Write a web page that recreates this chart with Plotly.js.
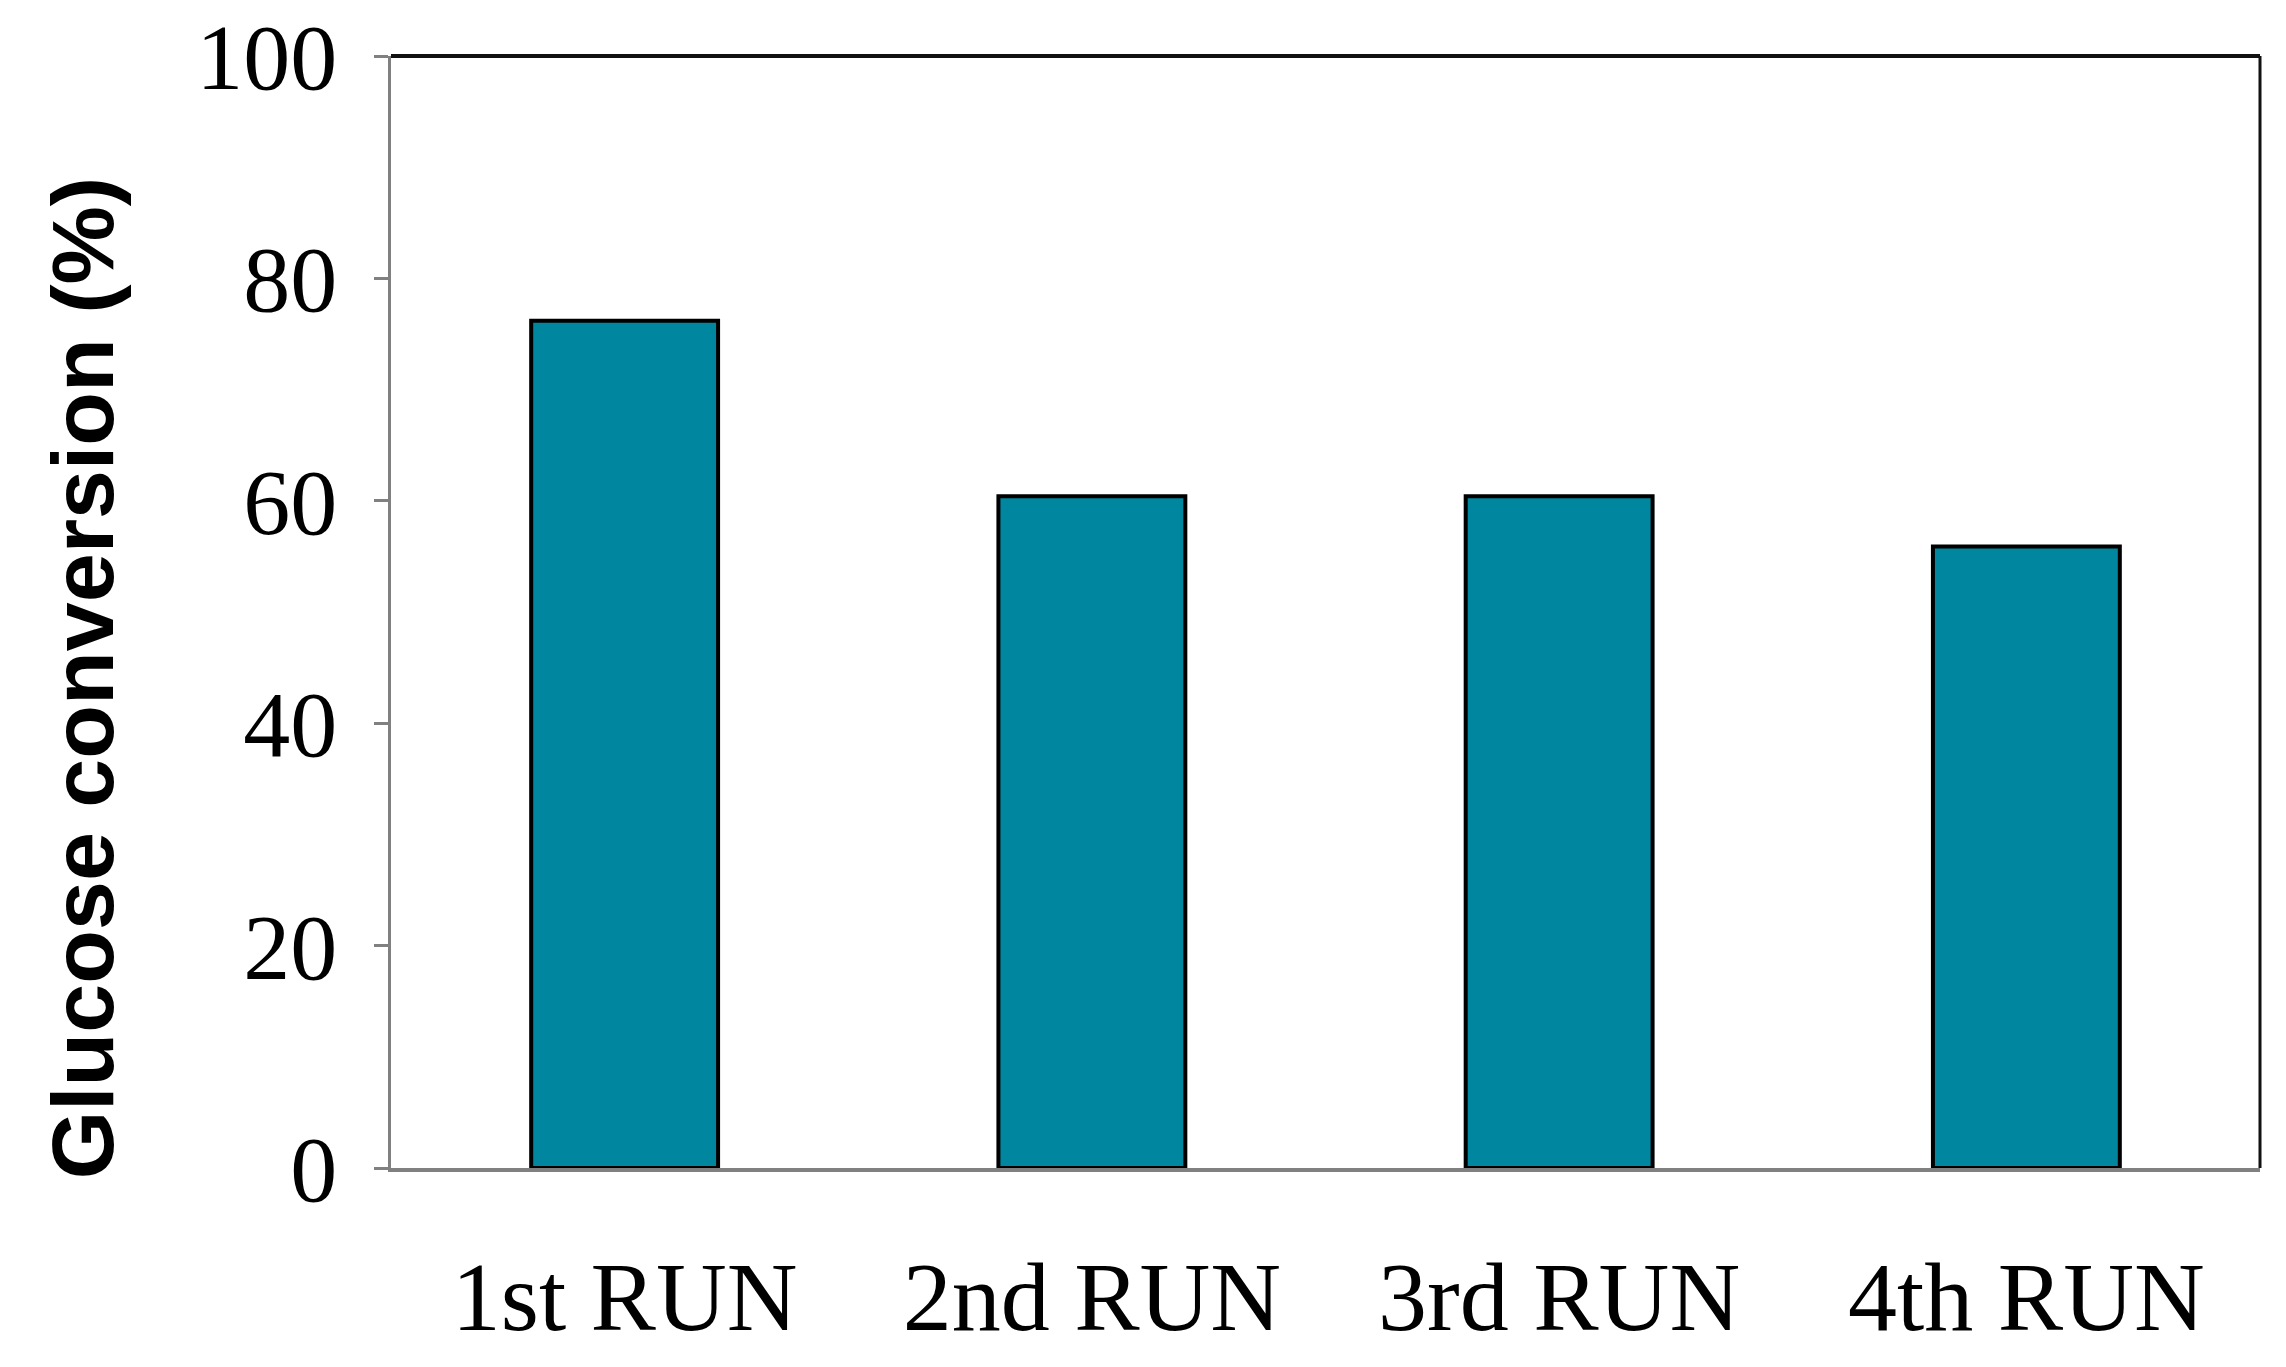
<!DOCTYPE html>
<html>
<head>
<meta charset="utf-8">
<script src="https://cdn.plot.ly/plotly-3.0.1.min.js"></script>
<style>
  html, body { margin: 0; padding: 0; background: #fff; }
  #chart { width: 2286px; height: 1367px; }
</style>
</head>
<body>
<div id="chart"></div>
<script>
// values
const runs       = ["1st RUN", "2nd RUN", "3rd RUN", "4th RUN"];
const conversion = [76.2, 60.4, 60.4, 55.9];
const yTicks     = [0, 20, 40, 60, 80, 100];

const SERIF = "'Liberation Serif', 'Times New Roman', serif";
const SANS  = "'Liberation Sans', Arial, sans-serif";

Plotly.newPlot("chart", [{
  type: "bar",
  x: runs, y: conversion,
  marker: { color: "#00879F", line: { color: "#000", width: 4 } },
  hoverinfo: "skip",
}], {
  width: 2286, height: 1367,
  paper_bgcolor: "#fff", plot_bgcolor: "#fff",
  margin: { t: 56, b: 199, l: 391, r: 26 },
  bargap: 0.6,
  showlegend: false,
  xaxis: {
    showline: true, linecolor: "#808080", linewidth: 4,
    ticks: "", showgrid: false, zeroline: false,
    tickfont: { family: SERIF, size: 98, color: "#000" },
    ticklabelstandoff: 40,
  },
  yaxis: {
    range: [0, 100], tickvals: yTicks,
    showline: true, linecolor: "#808080", linewidth: 3,
    ticks: "outside", ticklen: 14, tickwidth: 3, tickcolor: "#808080",
    showgrid: false, zeroline: false,
    tickfont: { family: SERIF, size: 94, color: "#000" },
    ticklabelstandoff: 18,
    ticklabeloverflow: "allow",
  },
  shapes: [
    { type: "line", xref: "paper", yref: "paper", x0: 0, x1: 1, y0: 1, y1: 1, line: { color: "#111", width: 4 } },
    { type: "line", xref: "paper", yref: "paper", x0: 1, x1: 1, y0: 0, y1: 1, line: { color: "#111", width: 3 } },
  ],
  annotations: [{
    text: "<b>Glucose conversion (%)</b>",
    xref: "paper", yref: "paper",
    x: -0.165, y: 0.44, xanchor: "center", yanchor: "middle",
    textangle: -90, showarrow: false,
    font: { family: SANS, size: 88, color: "#000" },
  }],
}, { displayModeBar: false, staticPlot: true });
</script>
</body>
</html>
